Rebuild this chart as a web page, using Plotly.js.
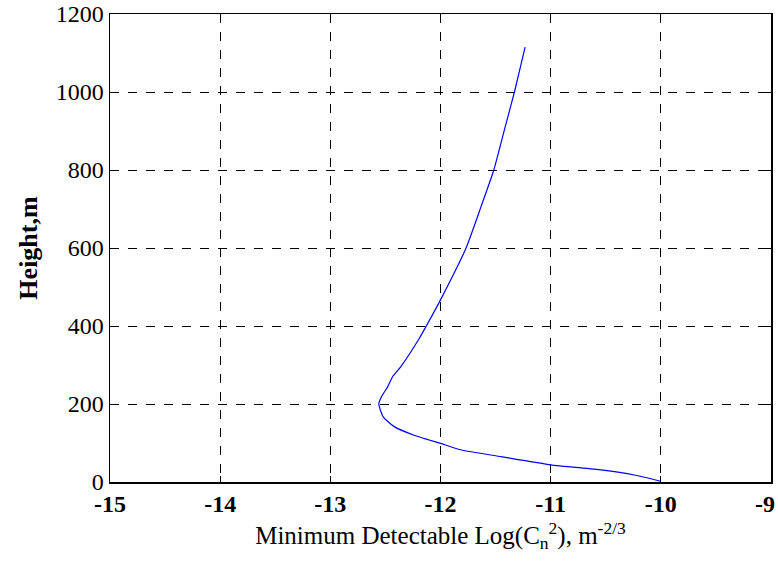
<!DOCTYPE html>
<html>
<head>
<meta charset="utf-8">
<script src="https://cdn.plot.ly/plotly-3.0.1.min.js"></script>
<style>html,body{margin:0;padding:0;background:#fff;}#chart{width:778px;height:564px;}</style>
</head>
<body>
<div id="chart"></div>
<script>
const logCn2 = [-10.0, -10.24, -10.54, -11.0, -11.45, -11.81, -12.0, -12.24, -12.42, -12.52, -12.56, -12.535, -12.48, -12.435, -12.36, -12.193, -12.129, -12.0, -11.768, -11.632, -11.516, -11.42, -11.329, -11.274, -11.232];
const heightM = [2, 18, 31, 44, 65, 82, 99, 120, 142, 167, 200, 219, 244, 270, 296, 368, 400, 467, 600, 706, 800, 903, 1000, 1065, 1115];
const xTicks = [-15, -14, -13, -12, -11, -10, -9];
const yTicks = [0, 200, 400, 600, 800, 1000, 1200];

const fam = '"Liberation Serif", "Times New Roman", serif';
// last x label nudged left (with trailing no-break spaces) so it stays inside the window
const xTickText = xTicks.map((v, i) => i === xTicks.length - 1 ? String(v) + '\u00A0\u00A0' : String(v));

Plotly.newPlot('chart', [{
  x: logCn2, y: heightM, type: 'scatter', mode: 'lines',
  line: {color: '#0000ff', width: 1.2, shape: 'spline', smoothing: 0.5}, showlegend: false, hoverinfo: 'skip'
}], {
  width: 778, height: 564,
  margin: {l: 110, r: 7, t: 14, b: 82},
  paper_bgcolor: '#fff', plot_bgcolor: '#fff',
  font: {family: fam, color: '#000', size: 24},
  xaxis: {
    range: [-15, -9], tickvals: xTicks, ticktext: xTickText,
    ticklabeloverflow: 'allow',
    showgrid: true, gridcolor: '#000', griddash: 'dash', gridwidth: 1,
    zeroline: false, showline: true, linecolor: '#000', linewidth: 1.5, mirror: 'ticks',
    ticks: 'inside', ticklen: 6, tickcolor: '#000',
    tickfont: {family: fam, size: 24, color: '#000', weight: 'bold'},
    title: {text: 'Minimum Detectable Log(C<sub>n</sub><sup>2</sup>), m<sup>-2/3</sup>', font: {family: fam, size: 25, color: '#000'}, standoff: 10}
  },
  yaxis: {
    range: [0, 1200], tickvals: yTicks, ticktext: yTicks.map(String),
    ticklabeloverflow: 'allow',
    showgrid: true, gridcolor: '#000', griddash: 'dash', gridwidth: 1,
    zeroline: false, showline: true, linecolor: '#000', linewidth: 1.5, mirror: 'ticks',
    ticks: 'inside', ticklen: 6, tickcolor: '#000',
    tickfont: {family: fam, size: 24, color: '#000'},
    title: {text: '<b>Height,m</b>', font: {family: fam, size: 26, color: '#000'}, standoff: 10}
  }
}, {displayModeBar: false, staticPlot: true});
</script>
</body>
</html>
